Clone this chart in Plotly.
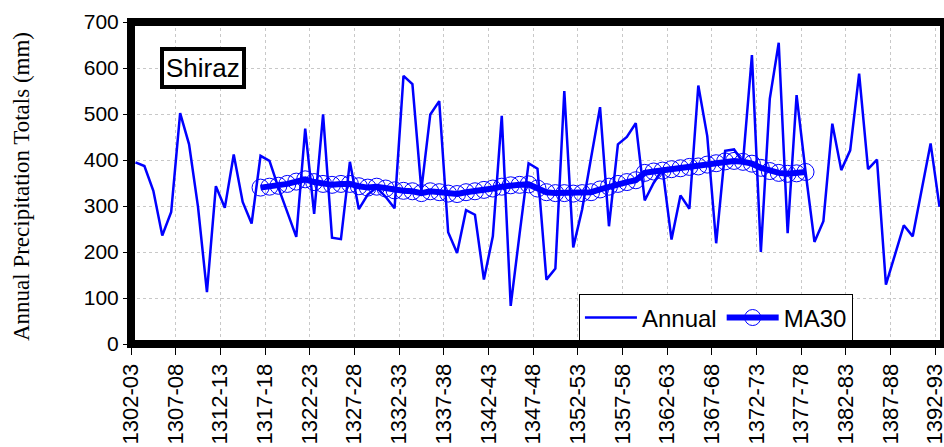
import plotly.graph_objects as go

categories = [f"{1302 + i}-{(1303 + i) % 100:02d}" for i in range(91)]

annual = [395, 387, 333, 236, 287, 502, 434, 298, 113, 343,
          296, 412, 309, 262, 409, 398, 340, 285, 233, 468,
          283, 499, 231, 228, 396, 293, 325, 340, 320, 295,
          583, 565, 335, 499, 528, 243, 198, 291, 281, 140,
          234, 496, 83, 240, 393, 381, 140, 164, 550, 210,
          293, 405, 515, 256, 434, 450, 480, 312, 350, 380,
          227, 323, 294, 562, 452, 219, 420, 423, 395, 628,
          200, 533, 655, 241, 541, 375, 222, 267, 479, 378,
          421, 588, 380, 401, 129, 193, 258, 234, 335, 436,
          298]

ma30_start = 14
ma30 = [340, 342, 344, 348, 353, 358, 352, 348, 346, 348,
        348, 343, 340, 342, 338, 334, 333, 332, 328, 332,
        330, 327, 326, 330, 332, 335, 338, 342, 345, 346,
        347, 338, 330, 328, 328, 327, 328, 330, 336, 342,
        348, 352, 356, 372, 375, 377, 380, 382, 385, 386,
        390, 393, 397, 398, 396, 392, 383, 376, 372, 370,
        371, 374]

tick_step = 5

x_annual = [i + 0.5 for i in range(len(annual))]
x_ma = [ma30_start + i + 0.5 for i in range(len(ma30))]
tickvals = list(range(0, len(categories), tick_step))
ticktext = [categories[i] for i in tickvals]

BLUE = "#0000FF"
SANS = "Liberation Sans, Arial, sans-serif"
SERIF = "Liberation Serif, Times New Roman, serif"

fig = go.Figure()
fig.add_trace(go.Scatter(
    x=x_annual, y=annual, mode="lines", name="Annual",
    line=dict(color=BLUE, width=2.5),
))
fig.add_trace(go.Scatter(
    x=x_ma, y=ma30, mode="lines+markers", name="MA30",
    line=dict(color=BLUE, width=6),
    marker=dict(symbol="circle-open", size=17, color=BLUE, line=dict(width=1, color=BLUE)),
))

fig.update_layout(
    width=944, height=447,
    margin=dict(l=131, r=0, t=22, b=103, autoexpand=False),
    paper_bgcolor="white", plot_bgcolor="white",
    font=dict(family=SANS, color="black"),
    showlegend=True,
    legend=dict(
        orientation="h", x=0.888, xanchor="right", y=0.008, yanchor="bottom",
        bgcolor="white", bordercolor="black", borderwidth=1,
        font=dict(family=SANS, size=24, color="black"),
        itemwidth=52, tracegroupgap=0,
    ),
    xaxis=dict(
        range=[0, 91], tickmode="array", tickvals=tickvals, ticktext=ticktext,
        tickangle=-90, tickfont=dict(family=SANS, size=22, color="black"),
        ticks="outside", ticklen=10, tickcolor="black", tickwidth=1,
        ticklabeloverflow="allow",
        showgrid=True, gridcolor="#c8c8c8", griddash="dot", gridwidth=1,
        zeroline=False, showline=False, automargin=False,
    ),
    yaxis=dict(
        range=[0, 700], dtick=100,
        tickfont=dict(family=SANS, size=21, color="black"),
        ticks="outside", ticklen=7, tickcolor="black", tickwidth=1,
        ticklabelstandoff=0,
        showgrid=True, gridcolor="#c8c8c8", griddash="dot", gridwidth=1,
        zeroline=False, showline=False, automargin=False,
    ),
    shapes=[dict(type="rect", xref="paper", yref="paper", x0=0, x1=1, y0=0, y1=1,
                 line=dict(color="black", width=8), fillcolor="rgba(0,0,0,0)", layer="above")],
    annotations=[
        dict(
            text="Shiraz", xref="paper", yref="paper", x=0.0886, y=0.856,
            xanchor="center", yanchor="middle", showarrow=False,
            font=dict(family=SANS, size=26, color="black"),
            bordercolor="black", borderwidth=4, borderpad=2, bgcolor="white",
        ),
        dict(
            text="Annual Precipitation Totals (mm)", xref="paper", yref="paper",
            x=-0.1355, y=0.49, xanchor="center", yanchor="middle", textangle=-90,
            showarrow=False, font=dict(family=SERIF, size=23, color="black"),
        ),
    ],
)

fig.write_html(
    "out.html",
    config={"displayModeBar": False},
    post_script="document.body.style.margin='0';document.body.style.overflow='hidden';",
)
